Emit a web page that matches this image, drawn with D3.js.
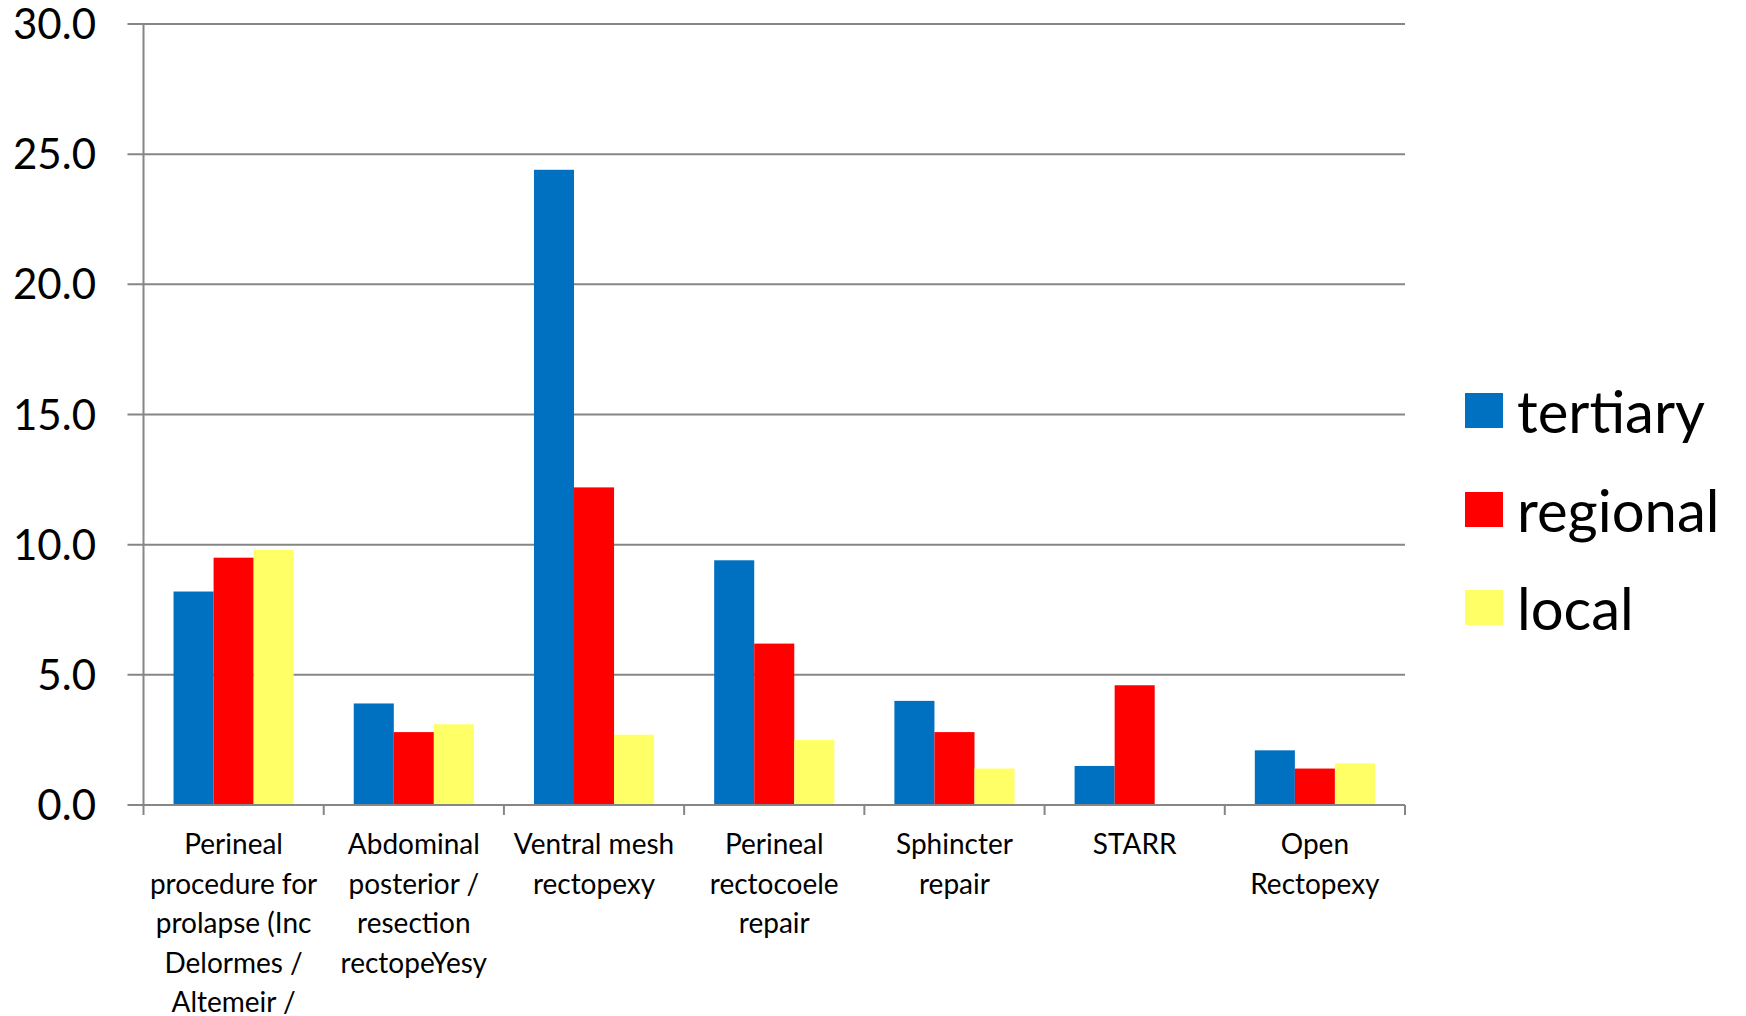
<!DOCTYPE html>
<html>
<head>
<meta charset="utf-8">
<script src="https://cdn.jsdelivr.net/npm/d3@7"></script>
<style>
  html, body { margin: 0; padding: 0; background: #fff; }
  svg { display: block; }
  text { font-family: Lato, "Open Sans", sans-serif; fill: #000; }
</style>
</head>
<body>
<div id="chart"></div>
<script>
// category labels, already broken into lines as in the picture
var categories = [
  ['Perineal', 'procedure for', 'prolapse (Inc', 'Delormes /', 'Altemeir /'],
  ['Abdominal', 'posterior /', 'resection', 'rectopeYesy'],
  ['Ventral mesh', 'rectopexy'],
  ['Perineal', 'rectocoele', 'repair'],
  ['Sphincter', 'repair'],
  ['STARR'],
  ['Open', 'Rectopexy']
];

var seriesNames = ['tertiary', 'regional', 'local'];
var seriesColors = ['#0070C0', '#FF0000', '#FFFF66'];

var tertiary = [8.2, 3.9, 24.4, 9.4, 4.0, 1.5, 2.1];
var regional = [9.5, 2.8, 12.2, 6.2, 2.8, 4.6, 1.4];
var local = [9.8, 3.1, 2.7, 2.5, 1.4, 0, 1.6];

var yTicks = [0, 5, 10, 15, 20, 25, 30];


(function () {
  var W = 1746, H = 1016;
  var plotL = 143.5, plotR = 1405, plotT = 24, plotB = 805;

  var svg = d3.select('#chart').append('svg')
    .attr('width', W)
    .attr('height', H);

  svg.append('rect')
    .attr('width', W)
    .attr('height', H)
    .style('fill', '#fff');

  var catIds = categories.map(function (c, i) { return i; });

  var x = d3.scaleBand()
    .domain(catIds)
    .range([plotL, plotR])
    .paddingInner(0)
    .paddingOuter(0);

  // bars fill 2/3 of each band (gap width 50%)
  var xInner = d3.scaleBand()
    .domain(seriesNames)
    .range([0, x.bandwidth()])
    .paddingOuter(0.75)
    .paddingInner(0);

  var y = d3.scaleLinear()
    .domain([0, 30])
    .range([plotB, plotT]);

  var gridColor = '#868686';

  // gridlines + left ticks
  svg.append('g')
    .selectAll('line')
    .data(yTicks)
    .enter()
    .append('line')
    .attr('x1', plotL - 16)
    .attr('x2', plotR)
    .attr('y1', function (d) { return y(d); })
    .attr('y2', function (d) { return y(d); })
    .style('stroke', gridColor)
    .style('stroke-width', 2);

  // y labels
  svg.append('g')
    .selectAll('text')
    .data(yTicks)
    .enter()
    .append('text')
    .attr('x', 96)
    .attr('y', function (d) { return y(d); })
    .attr('dy', '0.36em')
    .attr('text-anchor', 'end')
    .style('font-size', '42px')
    .text(function (d) { return d3.format('.1f')(d); });

  // bars
  var series = [tertiary, regional, local];

  series.forEach(function (vals, si) {
    svg.append('g')
      .selectAll('rect')
      .data(vals)
      .enter()
      .append('rect')
      .attr('x', function (d, i) { return x(i) + xInner(seriesNames[si]); })
      .attr('width', xInner.bandwidth())
      .attr('y', function (d) { return y(d); })
      .attr('height', function (d) { return y(0) - y(d); })
      .style('fill', seriesColors[si]);
  });

  // y axis line
  svg.append('line')
    .attr('x1', plotL).attr('x2', plotL)
    .attr('y1', plotT).attr('y2', plotB)
    .style('stroke', gridColor)
    .style('stroke-width', 2);

  // x axis line
  svg.append('line')
    .attr('x1', plotL).attr('x2', plotR)
    .attr('y1', plotB).attr('y2', plotB)
    .style('stroke', gridColor)
    .style('stroke-width', 2);

  // x ticks at band boundaries
  var bounds = catIds.map(function (i) { return x(i); }).concat([x.range()[1]]);

  svg.append('g')
    .selectAll('line')
    .data(bounds)
    .enter()
    .append('line')
    .attr('x1', function (d) { return d; })
    .attr('x2', function (d) { return d; })
    .attr('y1', plotB)
    .attr('y2', plotB + 10)
    .style('stroke', gridColor)
    .style('stroke-width', 2);

  // category labels
  var lineH = 39.5;

  svg.append('g')
    .selectAll('text')
    .data(categories)
    .enter()
    .append('text')
    .attr('text-anchor', 'middle')
    .style('font-size', '28px')
    .each(function (lines, i) {
      var t = d3.select(this);
      var cx = x(i) + x.bandwidth() / 2;

      lines.forEach(function (ln, k) {
        t.append('tspan')
          .attr('x', cx)
          .attr('y', 854 + k * lineH)
          .text(ln);
      });
    });

  // legend
  var legend = svg.append('g')
    .attr('transform', 'translate(1465, 0)');

  var legY = [433, 532, 630];

  seriesNames.forEach(function (name, i) {
    legend.append('rect')
      .attr('x', 0)
      .attr('y', legY[i] - 40)
      .attr('width', 38)
      .attr('height', 35)
      .style('fill', seriesColors[i]);

    legend.append('text')
      .attr('x', 52)
      .attr('y', legY[i])
      .style('font-size', '58px')
      .text(name);
  });
})();
</script>
</body>
</html>
